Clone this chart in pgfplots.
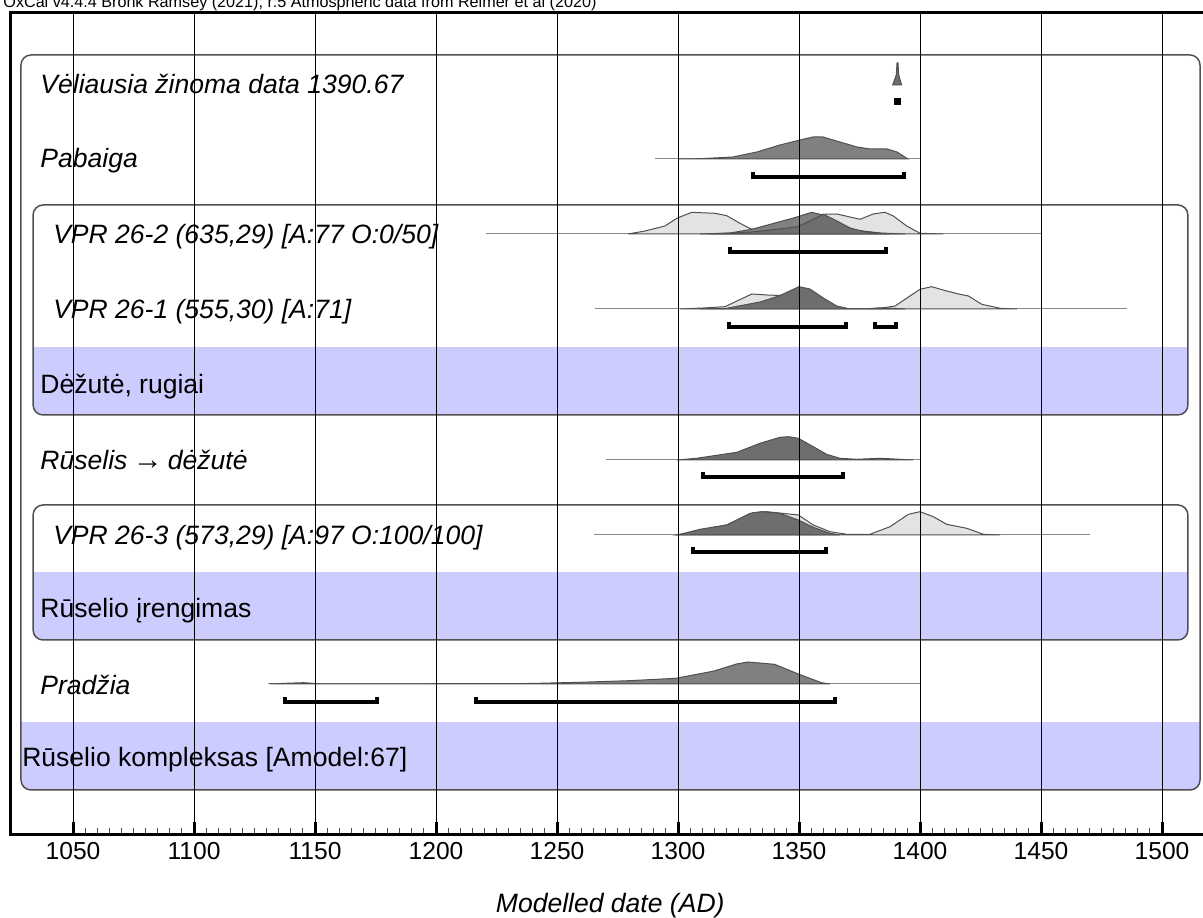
\documentclass[border=0pt]{standalone}
\usepackage{fontspec}
\setmainfont{Liberation Sans}
\usepackage{pgfplots}
\pgfplotsset{compat=1.18}
\definecolor{bandblue}{HTML}{CCCCFF}
\definecolor{likeli}{HTML}{E3E3E3}
\definecolor{postA}{HTML}{808080}
\definecolor{postB}{HTML}{6E6E6E}
\definecolor{outl}{HTML}{505050}
\definecolor{baseg}{HTML}{8A8A8A}
\newcommand\labfont{\fontsize{15.1}{18}\selectfont}

\begin{document}
\begin{tikzpicture}
\begin{axis}[
  x=0.484mm, y=0.2mm,
  xmin=1024, xmax=1520, ymin=83, ymax=905.5,
  axis on top, clip=false,
  axis line style={line width=0.6mm, black},
  xtick={1050,1100,...,1500},
  minor x tick num=9,
  xtick pos=left, xtick align=inside,
  ytick=\empty,
  major tick length=2.6mm, minor tick length=1.3mm,
  every major tick/.style={line width=0.6mm, black},
  every minor tick/.style={line width=0.2mm, black!70},
  xmajorgrids, major grid style={line width=0.2mm, black},
  /pgf/number format/assume math mode=true,
  /pgf/number format/set thousands separator={},
  xticklabel style={font=\fontsize{14}{16}\selectfont, yshift=-0.3mm},
  xlabel={Modelled date (AD)},
  xlabel style={font=\labfont\itshape, yshift=-4.2mm},
]
% bounding box corners (picture is cut at the top and right)
\coordinate (bbsw) at (axis cs:1019.83,0);
\coordinate (bbne) at (axis cs:1516.94,918);

% group boxes
\begin{scope}
\clip[rounded corners=2mm] (axis cs:1028.5,128) rectangle (axis cs:1515.7,863);
\fill[bandblue] (axis cs:1028.5,128) rectangle (axis cs:1515.7,196);
\end{scope}
\draw[outl, line width=0.3mm, rounded corners=2mm] (axis cs:1028.5,128) rectangle (axis cs:1515.7,863);
\begin{scope}
\clip[rounded corners=2mm] (axis cs:1033.5,503) rectangle (axis cs:1510.7,713);
\fill[bandblue] (axis cs:1033.5,503) rectangle (axis cs:1510.7,571);
\end{scope}
\draw[outl, line width=0.3mm, rounded corners=2mm] (axis cs:1033.5,503) rectangle (axis cs:1510.7,713);
\begin{scope}
\clip[rounded corners=2mm] (axis cs:1033.5,278) rectangle (axis cs:1510.7,413);
\fill[bandblue] (axis cs:1033.5,278) rectangle (axis cs:1510.7,346);
\end{scope}
\draw[outl, line width=0.3mm, rounded corners=2mm] (axis cs:1033.5,278) rectangle (axis cs:1510.7,413);

% Veliausia zinoma data
\addplot[fill=postB, draw=outl, line width=0.2mm] coordinates {(1388.7,833)(1390.2,843)(1390.5,855)(1390.9,855)(1391.2,843)(1392.4,833)} -- cycle;
\addplot[only marks, mark=square*, mark size=0.6mm, black] coordinates {(1390.7,816.7)};

% Pabaiga
\addplot[baseg, line width=0.2mm] coordinates {(1290.5,759)(1400,759)};
\addplot[fill=postA, draw=outl, line width=0.2mm] coordinates {
(1300,759)(1309.1,759.3)(1322.7,761)(1332.6,766)(1342.1,773)(1350.4,778)(1355.8,781)(1359.9,781)
(1366.9,776)(1374.0,771)(1379.3,769)(1386.4,769)(1390.5,766)(1395.0,759)} -- cycle;
\addplot[black, line width=0.8mm] coordinates {(1331,746)(1331,741)(1393.4,741)(1393.4,746)};

% VPR 26-2
\addplot[baseg, line width=0.2mm] coordinates {(1220.7,684)(1450.4,684)};
\addplot[fill=likeli, draw=outl, line width=0.2mm] coordinates {
(1279.3,684)(1286.4,687)(1294.6,692)(1299.5,699.7)(1305.7,705.7)(1309.1,705.3)(1315.3,704.7)
(1320.1,702.3)(1325.6,694.7)(1330.5,688.7)(1346.3,696)(1360.0,703.7)(1365.6,704)(1375.2,698.7)
(1380.7,704)(1385.5,705.7)(1389.0,702)(1394.5,692)(1400.0,684.7)(1409.6,684)} -- cycle;
\addplot[fill=postA, draw=outl, line width=0.2mm] coordinates {
(1309.1,684)(1321.5,685)(1330.5,688.7)(1340.1,695)(1349.2,701)(1355.2,705.7)(1359.9,703)
(1366.9,694)(1373.1,688)(1383.5,685)(1393.8,684)} -- cycle;
\addplot[fill=postB, draw=outl, line width=0.2mm] coordinates {
(1313.2,684)(1330.5,686)(1342.1,689)(1349.6,691.3)(1355.4,698)(1360.0,703.7)(1364.9,698)
(1371.1,690)(1377.3,686)(1387.6,684)} -- cycle;
\addplot[black, line width=0.8mm] coordinates {(1321.5,671)(1321.5,666)(1386.1,666)(1386.1,671)};

% VPR 26-1
\addplot[baseg, line width=0.2mm] coordinates {(1265.7,609)(1485.5,609)};
\addplot[fill=likeli, draw=outl, line width=0.2mm] coordinates {
(1300.8,609)(1310.5,610)(1319.4,611.3)(1330.5,624)(1336.7,623)(1342.1,622.5)(1349.7,620.7)
(1355.9,614.7)(1364.2,609.7)(1371.1,609)(1375.2,609)(1383.5,609.7)(1389.7,612)(1400.0,628.7)
(1404.8,631.3)(1411.0,627)(1416.5,623.7)(1420.0,622)(1425.5,613.7)(1433.1,609.7)(1440.0,609)} -- cycle;
\addplot[fill=postB, draw=outl, line width=0.2mm] coordinates {
(1309.1,609)(1320.1,609.7)(1333.9,616)(1341.7,622)(1350.0,631.3)(1354.5,629)(1360.7,619)
(1365.6,612)(1371.1,609)(1377.3,609)(1383.5,610.2)(1388.8,609.7)(1393.8,609)} -- cycle;
\addplot[black, line width=0.8mm] coordinates {(1320.9,596)(1320.9,591)(1369.4,591)(1369.4,596)};
\addplot[black, line width=0.8mm] coordinates {(1381.4,596)(1381.4,591)(1390.1,591)(1390.1,596)};

% Ruselis -> dezute
\addplot[baseg, line width=0.2mm] coordinates {(1270.2,458)(1400,458)};
\addplot[fill=postB, draw=outl, line width=0.2mm] coordinates {
(1299.5,458)(1307.7,459.7)(1324.3,465.7)(1333.9,474.7)(1342.1,480.7)(1345.6,481.3)(1349.7,479.7)
(1355.9,471.3)(1361.4,463.7)(1366.9,459.7)(1373.8,458.7)(1383.5,459.7)(1391.7,458.7)(1397.2,458)} -- cycle;
\addplot[black, line width=0.8mm] coordinates {(1310.5,446)(1310.5,441)(1368.3,441)(1368.3,446)};

% VPR 26-3
\addplot[baseg, line width=0.2mm] coordinates {(1265.3,383)(1470.2,383)};
\addplot[fill=likeli, draw=outl, line width=0.2mm] coordinates {
(1299.5,383)(1310.5,388.7)(1320.1,393)(1331.1,405.3)(1336.7,406.3)(1349.7,403)(1355.9,393)
(1362.8,386.3)(1369.7,383.7)(1379.3,383.7)(1387.6,391.3)(1395.2,403.7)(1400.0,406.3)(1405.5,401.3)
(1411.0,393.7)(1419.3,389.7)(1426.2,383.7)(1433.1,383)} -- cycle;
\addplot[fill=postB, draw=outl, line width=0.2mm] coordinates {
(1300.1,383)(1309.1,388.7)(1320.1,393)(1329.8,404.7)(1334.6,406.3)(1342.1,404.7)(1349.7,398)
(1355.9,390.7)(1362.8,384.7)(1366.9,383)} -- cycle;
\addplot[black, line width=0.8mm] coordinates {(1306.1,371)(1306.1,366)(1361.2,366)(1361.2,371)};

% Pradzia
\addplot[baseg, line width=0.2mm] coordinates {(1130.5,234)(1400,234)};
\addplot[fill=postA, draw=outl, line width=0.2mm] coordinates {
(1131.4,234)(1137.9,234.7)(1145.3,235.3)(1152.1,234.2)(1160.3,234)(1239.3,234.5)(1259.5,235.7)
(1279.8,237.3)(1299.2,239.7)(1314.9,247)(1324.2,254)(1328.8,256)(1339.9,253.7)(1350.0,243.7)
(1359.3,235.3)(1362.8,234)} -- cycle;
\addplot[black, line width=0.8mm] coordinates {(1137.5,221)(1137.5,216)(1175.7,216)(1175.7,221)};
\addplot[black, line width=0.8mm] coordinates {(1216.7,221)(1216.7,216)(1364.8,216)(1364.8,221)};

% labels
\node[anchor=base west, inner sep=0, font=\labfont\itshape] at (axis cs:1036.4,824.5) {Vėliausia žinoma data 1390.67};
\node[anchor=base west, inner sep=0, font=\labfont\itshape] at (axis cs:1036.4,750.5) {Pabaiga};
\node[anchor=base west, inner sep=0, font=\labfont\itshape] at (axis cs:1041.7,674.5) {VPR 26-2 (635,29) [A:77 O:0/50]};
\node[anchor=base west, inner sep=0, font=\labfont\itshape] at (axis cs:1041.7,599.5) {VPR 26-1 (555,30) [A:71]};
\node[anchor=base west, inner sep=0, font=\labfont] at (axis cs:1036.4,524.5) {Dėžutė, rugiai};
\node[anchor=base west, inner sep=0, font=\labfont\itshape] at (axis cs:1036.4,448.5) {Rūselis\hspace{0.2em}{\fontsize{17}{17}\selectfont\upshape →}\hspace{0.2em}dėžutė};
\node[anchor=base west, inner sep=0, font=\labfont\itshape] at (axis cs:1041.7,373.5) {VPR 26-3 (573,29) [A:97 O:100/100]};
\node[anchor=base west, inner sep=0, font=\labfont] at (axis cs:1036.4,300) {Rūselio įrengimas};
\node[anchor=base west, inner sep=0, font=\labfont\itshape] at (axis cs:1036.4,223.5) {Pradžia};
\node[anchor=base west, inner sep=0, font=\labfont] at (axis cs:1028.9,151) {Rūselio kompleksas [Amodel:67]};

\node[anchor=base west, inner sep=0, font=\fontsize{9.2}{11}\selectfont] at (axis cs:1021.1,910.5) {OxCal v4.4.4 Bronk Ramsey (2021); r:5 Atmospheric data from Reimer et al (2020)};
\end{axis}
\pgfresetboundingbox
\path[use as bounding box] (bbsw) rectangle (bbne);
\end{tikzpicture}
\end{document}
